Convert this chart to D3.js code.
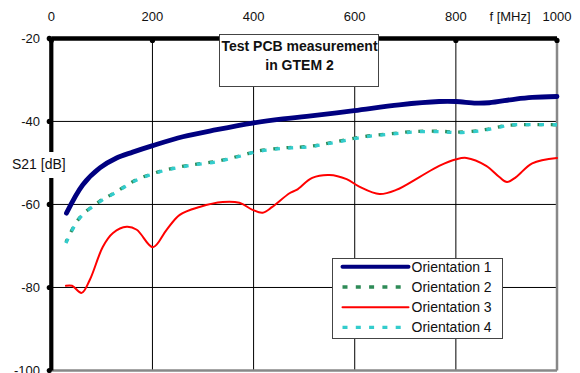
<!DOCTYPE html>
<html lang="en">
<head>
<meta charset="UTF-8">
<title>Test PCB measurement in GTEM 2</title>
<script src="https://d3js.org/d3.v7.min.js"></script>
<style>
  body { margin: 0; background: #fff; }
  text { font-family: "Liberation Sans", Arial, sans-serif; fill: #111; }
</style>
</head>
<body>
<svg width="580" height="373"></svg>
<script>
// frequency [MHz] / S21 [dB]
const freq1 = [30, 62, 96, 129, 161, 199, 260, 327, 398, 458, 505, 599, 688, 767, 800, 840, 866, 918, 951, 1000];
const s21o1 = [-62.1, -55.3, -51.2, -48.8, -47.4, -45.9, -43.7, -42.0, -40.4, -39.4, -38.8, -37.4, -36.0, -35.2, -35.2, -35.6, -35.5, -34.6, -34.2, -34.0];

const freq2 = [29, 56, 96, 122, 169, 195, 221, 275, 327, 379, 406, 458, 510, 563, 615, 668, 722, 774, 803, 852, 886, 905, 1000];
const s21o2 = [-69.1, -63.2, -59.2, -57.4, -54.0, -52.8, -51.8, -50.5, -49.6, -48.1, -47.2, -46.4, -46.0, -44.9, -43.7, -43.0, -42.4, -42.4, -42.6, -42.1, -41.3, -40.9, -40.8];

const freq3 = [29, 41, 60, 76, 102, 122, 149, 169, 201, 228, 254, 293, 339, 372, 398, 418, 437, 471, 485, 516, 550, 584, 609, 649, 682, 728, 767, 801, 821, 860, 886, 901, 919, 951, 1000];
const s21o3 = [-79.6, -79.6, -81.3, -78.2, -70.2, -66.9, -65.4, -66.1, -70.3, -66.1, -62.5, -60.6, -59.4, -59.6, -61.3, -62.0, -60.6, -57.3, -56.5, -53.6, -52.9, -53.9, -55.7, -57.5, -56.5, -53.4, -50.7, -49.1, -48.8, -50.7, -53.4, -54.6, -53.4, -50.1, -48.8];

const freq4 = [29, 56, 96, 122, 169, 195, 221, 275, 327, 379, 406, 458, 510, 563, 615, 668, 722, 774, 803, 852, 886, 905, 1000];
const s21o4 = [-69.3, -63.3, -59.3, -57.5, -54.1, -52.9, -51.9, -50.6, -49.7, -48.2, -47.3, -46.5, -46.1, -45.0, -43.8, -43.1, -42.5, -42.5, -42.7, -42.2, -41.4, -40.9, -40.8];

const xTicks = [0, 200, 400, 600, 800, 1000];
const yTicks = [-20, -40, -60, -80, -100];
const seriesNames = ["Orientation 1", "Orientation 2", "Orientation 3", "Orientation 4"];

const series = [
  { name: seriesNames[0], f: freq1, v: s21o1, color: "#000080", width: 4.8, dash: null },
  { name: seriesNames[1], f: freq2, v: s21o2, color: "#2e8b57", width: 3.3, dash: "5,8.3" },
  { name: seriesNames[2], f: freq3, v: s21o3, color: "#ff0000", width: 2, dash: null },
  { name: seriesNames[3], f: freq4, v: s21o4, color: "#33cccc", width: 3.3, dash: "5,8.3" }
];

const svg = d3.select("svg");
const plotL = 51.3, plotR = 557, plotT = 38.4, plotB = 370.5;

const x = d3.scaleLinear().domain([0, 1000]).range([plotL, plotR]);
const y = d3.scaleLinear().domain([-20, -100]).range([plotT, plotB]);

// grid
svg.append("g").selectAll("line")
  .data(xTicks.slice(1, -1))
  .enter().append("line")
  .attr("x1", d => x(d)).attr("x2", d => x(d))
  .attr("y1", plotT).attr("y2", plotB)
  .attr("stroke", "#000").attr("stroke-width", 1);

svg.append("g").selectAll("line")
  .data(yTicks.slice(1, -1))
  .enter().append("line")
  .attr("x1", plotL).attr("x2", plotR)
  .attr("y1", d => y(d)).attr("y2", d => y(d))
  .attr("stroke", "#000").attr("stroke-width", 1);

// right and bottom frame (grey)
svg.append("line").attr("x1", plotR).attr("x2", plotR).attr("y1", plotT).attr("y2", plotB)
  .attr("stroke", "#888").attr("stroke-width", 2.5);
svg.append("line").attr("x1", plotL).attr("x2", plotR).attr("y1", plotB).attr("y2", plotB)
  .attr("stroke", "#888").attr("stroke-width", 2.5);

// curves
const line = d3.line()
  .x(d => x(d[0]))
  .y(d => y(d[1]))
  .curve(d3.curveCatmullRom.alpha(0.5));

series.forEach(s => {
  svg.append("path")
    .datum(s.f.map((f, i) => [f, s.v[i]]))
    .attr("d", line)
    .attr("fill", "none")
    .attr("stroke", s.color)
    .attr("stroke-width", s.width)
    .attr("stroke-dasharray", s.dash)
    .attr("stroke-dashoffset", s.name === "Orientation 2" ? 2 : 0)
    .attr("stroke-linecap", s.dash ? "butt" : "round")
    .attr("stroke-linejoin", "round");
});

// top axis (thick)
svg.append("line").attr("x1", plotL).attr("x2", plotR).attr("y1", plotT).attr("y2", plotT)
  .attr("stroke", "#000").attr("stroke-width", 4.5);
svg.append("g").selectAll("circle")
  .data(xTicks)
  .enter().append("circle")
  .attr("cx", d => x(d)).attr("cy", plotT + 2)
  .attr("r", 2.6)
  .attr("fill", "#000");

svg.append("g").selectAll("text")
  .data(xTicks)
  .enter().append("text")
  .attr("x", d => x(d))
  .attr("y", 21)
  .attr("text-anchor", "middle")
  .attr("font-size", 13)
  .text(d => d);

svg.append("text").attr("x", 510).attr("y", 21)
  .attr("text-anchor", "middle").attr("font-size", 13).text("f [MHz]");

// left axis (thick)
svg.append("line").attr("x1", plotL).attr("x2", plotL).attr("y1", plotT).attr("y2", plotB)
  .attr("stroke", "#000").attr("stroke-width", 4.2);
svg.append("g").selectAll("circle")
  .data(yTicks)
  .enter().append("circle")
  .attr("cx", plotL - 2).attr("cy", d => y(d))
  .attr("r", 2.6)
  .attr("fill", "#000");

svg.append("g").selectAll("text")
  .data(yTicks)
  .enter().append("text")
  .attr("x", 40)
  .attr("y", d => y(d) + 4.5)
  .attr("text-anchor", "end")
  .attr("font-size", 13)
  .text(d => d);

// y label with white backing over the axis
svg.append("rect").attr("x", 10).attr("y", 152).attr("width", 58).attr("height", 26).attr("fill", "#fff");
svg.append("text").attr("x", 12).attr("y", 169).attr("font-size", 14).text("S21 [dB]");

// title box
svg.append("rect").attr("x", 219.5).attr("y", 34.5).attr("width", 159).attr("height", 52)
  .attr("fill", "#fff").attr("stroke", "#444").attr("stroke-width", 1);
svg.append("text").attr("x", 299.5).attr("y", 51).attr("text-anchor", "middle")
  .attr("font-size", 14).attr("font-weight", "bold").text("Test PCB measurement");
svg.append("text").attr("x", 299.5).attr("y", 69.5).attr("text-anchor", "middle")
  .attr("font-size", 14).attr("font-weight", "bold").text("in GTEM 2");

// legend
const lg = svg.append("g").attr("transform", "translate(332.5,258.5)");
lg.append("rect").attr("width", 170).attr("height", 80)
  .attr("fill", "#fff").attr("stroke", "#444").attr("stroke-width", 1);
const items = lg.selectAll("g.item")
  .data(series)
  .enter().append("g")
  .attr("transform", (d, i) => `translate(0,${8.3 + i * 20.2})`);
items.append("line")
  .attr("x1", 10).attr("x2", 76)
  .attr("stroke", d => d.color)
  .attr("stroke-width", d => d.width === 2 ? 2 : (d.dash ? 3.3 : 4))
  .attr("stroke-dasharray", d => d.dash ? "5,8.3" : null)
  .attr("stroke-linecap", d => d.dash ? "butt" : "round");
items.append("text")
  .attr("x", 79).attr("y", 5)
  .attr("font-size", 14)
  .text(d => d.name);
</script>
</body>
</html>
